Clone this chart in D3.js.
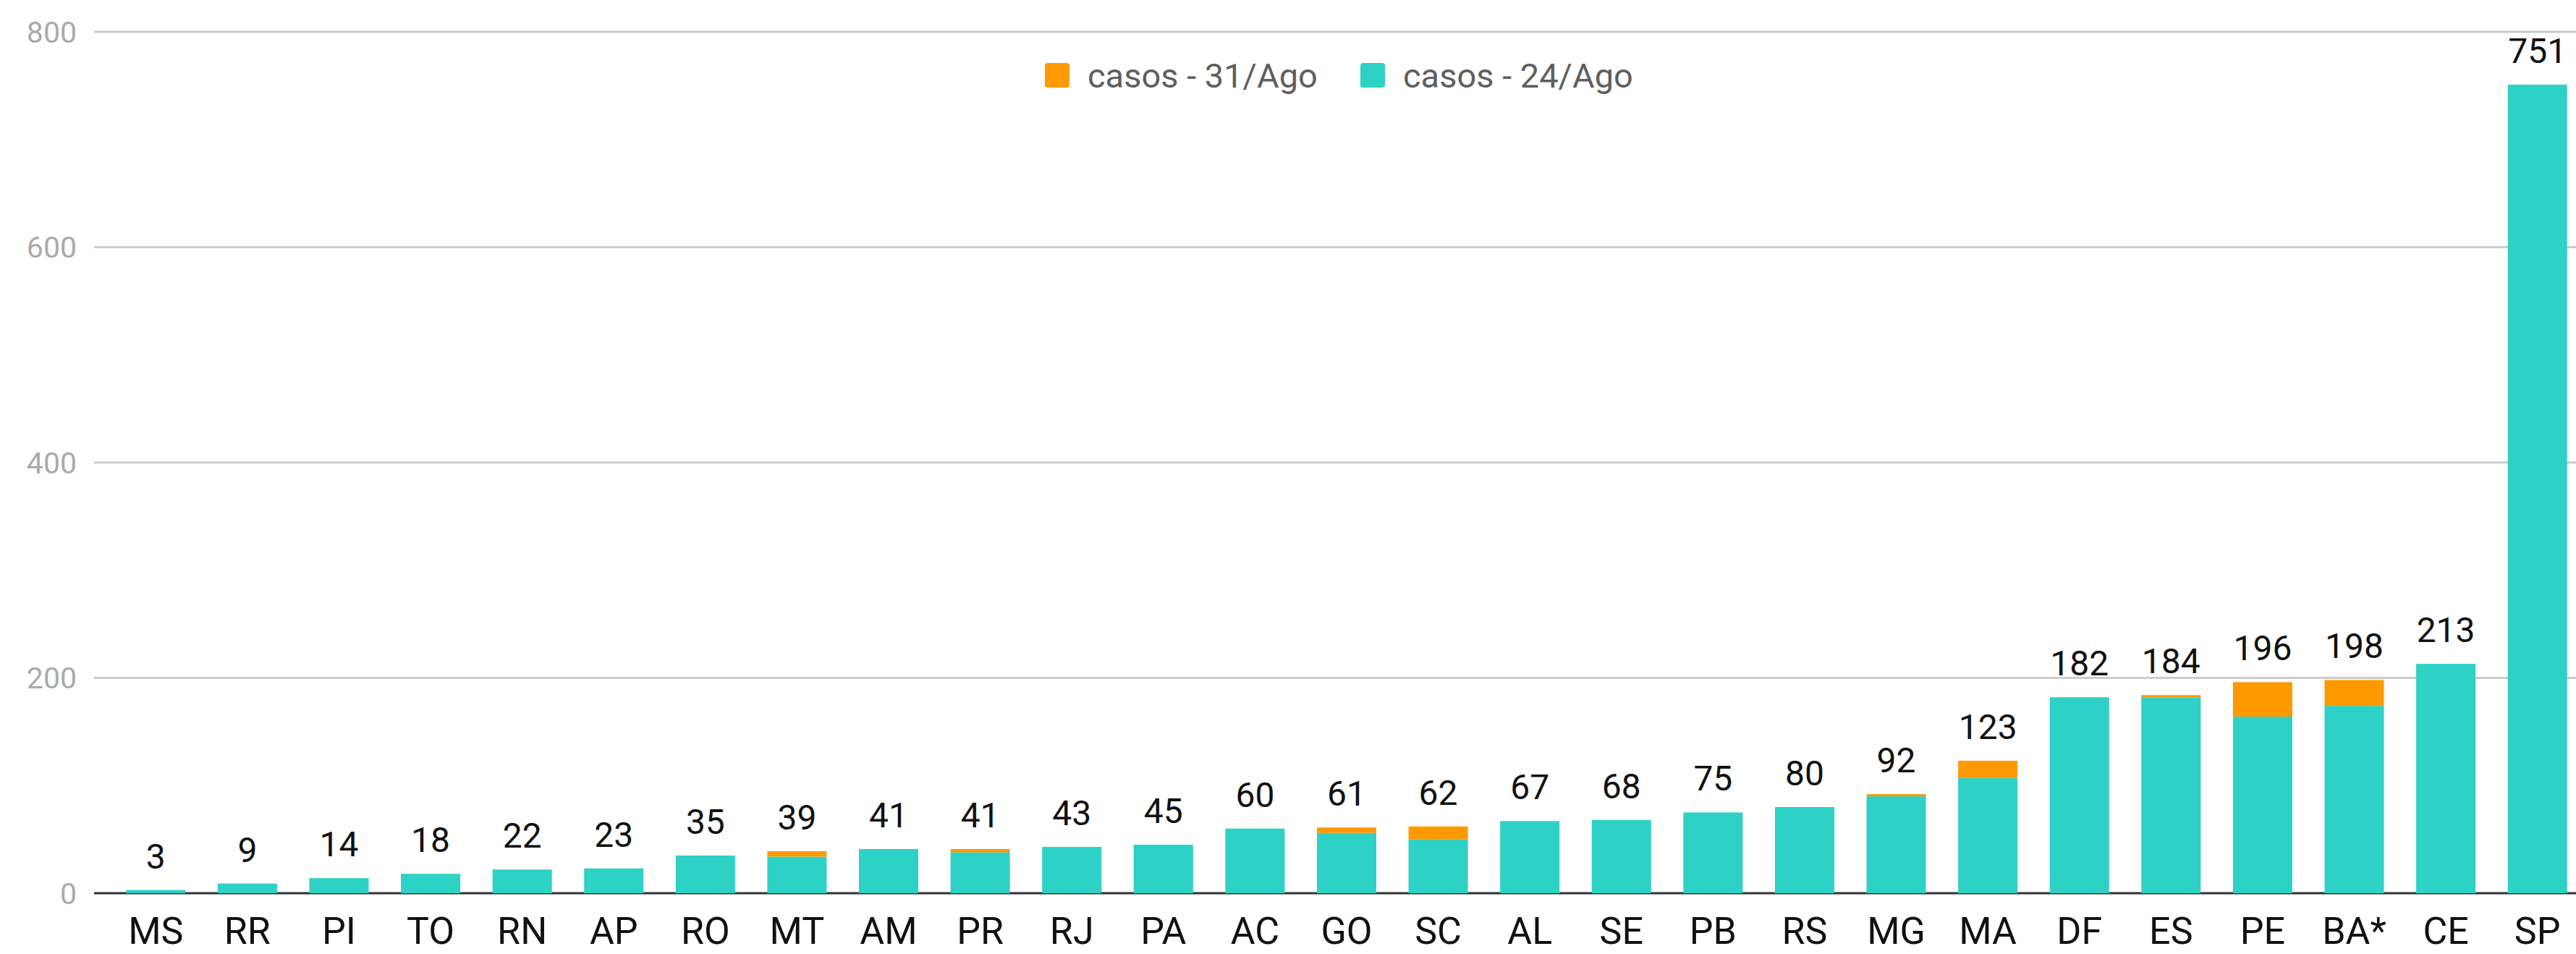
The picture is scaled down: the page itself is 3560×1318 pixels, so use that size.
<!DOCTYPE html>
<html>
<head>
<meta charset="utf-8">
<script src="https://cdn.jsdelivr.net/npm/d3@7"></script>
<style>
  body { margin: 0; background: #fff; }
  svg { display: block; font-family: Roboto, Arial, sans-serif; }
</style>
</head>
<body>
<script>
// Data
const estados = ["MS", "RR", "PI", "TO", "RN", "AP", "RO", "MT", "AM", "PR", "RJ", "PA", "AC", "GO",
                 "SC", "AL", "SE", "PB", "RS", "MG", "MA", "DF", "ES", "PE", "BA*", "CE", "SP"];
// cumulative cases on 24/Ago (teal)
const casos24 = [3, 9, 14, 18, 22, 23, 35, 34, 41, 38, 43, 45, 60, 56,
                 50, 67, 68, 75, 80, 90, 107, 182, 182, 164, 174, 213, 751];
// cumulative cases on 31/Ago (total, orange on top)
const casos31 = [3, 9, 14, 18, 22, 23, 35, 39, 41, 41, 43, 45, 60, 61,
                 62, 67, 68, 75, 80, 92, 123, 182, 184, 196, 198, 213, 751];
const yTicks = [0, 200, 400, 600, 800];

const series = [
  { name: "casos - 31/Ago", color: "#ff9900" },
  { name: "casos - 24/Ago", color: "#2ed1c5" }
];

const width = 3560, height = 1318;
const plotLeft = 130, plotTop = 44, plotBottom = 1234;

const svg = d3.select("body").append("svg")
    .attr("width", width)
    .attr("height", height);

const x = d3.scaleBand()
    .domain(estados)
    .range([152, 3570])
    .paddingInner(0.352)
    .paddingOuter(0.176);

const y = d3.scaleLinear()
    .domain([0, 800])
    .range([plotBottom, plotTop]);

// Gridlines
svg.append("g")
  .selectAll("line")
  .data(yTicks.filter(d => d > 0))
  .enter().append("line")
    .attr("x1", plotLeft)
    .attr("x2", width)
    .attr("y1", d => y(d))
    .attr("y2", d => y(d))
    .attr("stroke", "#cccccc")
    .attr("stroke-width", 3);

// Y tick labels
svg.append("g")
  .selectAll("text")
  .data(yTicks)
  .enter().append("text")
    .attr("x", 106)
    .attr("y", d => y(d))
    .attr("dy", "0.36em")
    .attr("text-anchor", "end")
    .attr("fill", "#aaaaaa")
    .style("font-size", "41px")
    .text(d => d);

// Baseline
svg.append("line")
    .attr("x1", plotLeft)
    .attr("x2", width)
    .attr("y1", y(0))
    .attr("y2", y(0))
    .attr("stroke", "#333333")
    .attr("stroke-width", 3);

const rows = estados.map((e, i) => ({ estado: e, v24: casos24[i], v31: casos31[i] }));

// Teal bars (24/Ago)
svg.append("g")
  .selectAll("rect")
  .data(rows)
  .enter().append("rect")
    .attr("x", d => x(d.estado))
    .attr("y", d => y(d.v24))
    .attr("width", x.bandwidth())
    .attr("height", d => y(0) - y(d.v24))
    .attr("fill", series[1].color);

// Orange increments (31/Ago)
svg.append("g")
  .selectAll("rect")
  .data(rows.filter(d => d.v31 > d.v24))
  .enter().append("rect")
    .attr("x", d => x(d.estado))
    .attr("y", d => y(d.v31))
    .attr("width", x.bandwidth())
    .attr("height", d => y(d.v24) - y(d.v31))
    .attr("fill", series[0].color);

// Value labels
svg.append("g")
  .selectAll("text")
  .data(rows)
  .enter().append("text")
    .attr("x", d => x(d.estado) + x.bandwidth() / 2)
    .attr("y", d => y(d.v31) - 30)
    .attr("text-anchor", "middle")
    .attr("fill", "#111")
    .style("font-size", "48px")
    .text(d => d.v31);

// Category labels
svg.append("g")
  .selectAll("text")
  .data(estados)
  .enter().append("text")
    .attr("x", d => x(d) + x.bandwidth() / 2)
    .attr("y", 1304)
    .attr("text-anchor", "middle")
    .attr("fill", "#111")
    .style("font-size", "52px")
    .text(d => d);

// Legend
const legend = svg.append("g");
const legendX = [1444, 1880];
series.forEach((s, i) => {
  legend.append("rect")
      .attr("x", legendX[i])
      .attr("y", 87)
      .attr("width", 34)
      .attr("height", 34)
      .attr("rx", 4)
      .attr("fill", s.color);
  legend.append("text")
      .attr("x", legendX[i] + 59)
      .attr("y", 104)
      .attr("dy", "0.36em")
      .attr("fill", "#5f5f5f")
      .style("font-size", "47px")
      .text(s.name);
});
</script>
</body>
</html>
